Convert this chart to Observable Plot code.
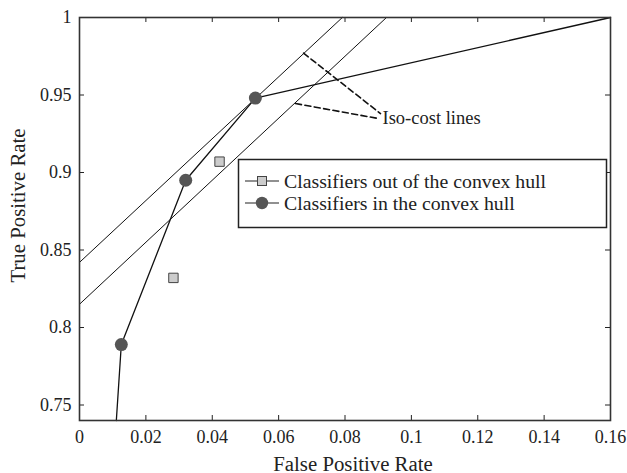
<!DOCTYPE html>
<html><head><meta charset="utf-8">
<script src="https://cdn.jsdelivr.net/npm/d3@7"></script>
<script src="https://cdn.jsdelivr.net/npm/@observablehq/plot@0.6"></script>
<style>body{margin:0;background:#fff}</style>
</head><body><div id="chart"></div>
<script>
const xTicks = [0, 0.02, 0.04, 0.06, 0.08, 0.1, 0.12, 0.14, 0.16];
const yTicks = [0.75, 0.8, 0.85, 0.9, 0.95, 1];
const hullFPR = [0.0111, 0.0126, 0.032, 0.053, 0.16];
const hullTPR = [0.74, 0.789, 0.895, 0.948, 1.0];
const hullPointFPR = [0.0126, 0.032, 0.053];
const hullPointTPR = [0.789, 0.895, 0.948];
const outFPR = [0.0283, 0.0422];
const outTPR = [0.832, 0.907];
const iso1FPR = [0, 0.0792];
const iso1TPR = [0.842, 1.0];
const iso2FPR = [0, 0.0925];
const iso2TPR = [0.815, 1.0];
const ptr1FPR = [0.0675, 0.0907];
const ptr1TPR = [0.977, 0.938];
const ptr2FPR = [0.0651, 0.0901];
const ptr2TPR = [0.9445, 0.9348];
const annotText = ["Iso-cost lines"];
const annotFPR = [0.0913];
const annotTPR = [0.935];
const legendLabels = ["Classifiers out of the convex hull", "Classifiers in the convex hull"];
const xLabel = "False Positive Rate";
const yLabel = "True Positive Rate";

const font = "Liberation Serif, Times New Roman, serif";
const W = 627, H = 473, mt = 17, mr = 17, mb = 53, ml = 79;
const ph = H - mt - mb, pw = W - ml - mr;

function legend() {
  const g = d3.create("svg:g").attr("font-family", font).attr("font-size", 19.8).attr("fill", "#222").attr("text-anchor", "start");
  g.append("rect").attr("x", 238.5).attr("y", 159.5).attr("width", 368).attr("height", 68)
    .attr("fill", "white").attr("stroke", "#222").attr("stroke-width", 1.5);
  const rows = [181, 203];
  legendLabels.forEach((lab, i) => {
    const y = rows[i];
    g.append("line").attr("x1", 245).attr("x2", 279).attr("y1", y).attr("y2", y).attr("stroke", "#222").attr("stroke-width", 1.2);
    if (i === 0) {
      g.append("rect").attr("x", 257.5).attr("y", y - 4.5).attr("width", 9).attr("height", 9)
        .attr("fill", "#ccc").attr("stroke", "#444").attr("stroke-width", 1);
    } else {
      g.append("circle").attr("cx", 262).attr("cy", y).attr("r", 6.2).attr("fill", "#555");
    }
    g.append("text").attr("x", 284).attr("y", y).attr("dy", "0.33em").attr("text-anchor", "start").text(lab);
  });
  return g.node();
}

const chart = Plot.plot({
  width: W, height: H,
  marginTop: mt, marginRight: mr, marginBottom: mb, marginLeft: ml,
  style: {fontFamily: font, background: "white", color: "#222"},
  x: {domain: [0, 0.16]},
  y: {domain: [0.74, 1]},
  marks: [
    Plot.axisX(xTicks, {tickSize: 0, tickPadding: 10, tickFormat: d => String(d), fontSize: 18, label: null}),
    Plot.axisY(yTicks, {tickSize: 0, tickPadding: 8, tickFormat: d => String(d), fontSize: 18, label: null}),
    Plot.ruleX(xTicks, {x: d => d, insetTop: ph - 5, stroke: "#222"}),
    Plot.ruleX(xTicks, {x: d => d, insetBottom: ph - 5, stroke: "#222"}),
    Plot.ruleY(yTicks, {y: d => d, insetLeft: pw - 5, stroke: "#222"}),
    Plot.ruleY(yTicks, {y: d => d, insetRight: pw - 5, stroke: "#222"}),
    Plot.line(iso1FPR, {x: iso1FPR, y: iso1TPR, stroke: "#111", strokeWidth: 1}),
    Plot.line(iso2FPR, {x: iso2FPR, y: iso2TPR, stroke: "#111", strokeWidth: 1}),
    Plot.line(ptr1FPR, {x: ptr1FPR, y: ptr1TPR, stroke: "#111", strokeWidth: 1.6, strokeDasharray: "6,3.5"}),
    Plot.line(ptr2FPR, {x: ptr2FPR, y: ptr2TPR, stroke: "#111", strokeWidth: 1.6, strokeDasharray: "6,3.5"}),
    Plot.line(hullFPR, {x: hullFPR, y: hullTPR, stroke: "#111", strokeWidth: 1.3}),
    Plot.dot(outFPR, {x: outFPR, y: outTPR, symbol: "square", r: 5.3, fill: "#ccc", stroke: "#444", strokeWidth: 1}),
    Plot.dot(hullPointFPR, {x: hullPointFPR, y: hullPointTPR, r: 6.5, fill: "#555"}),
    Plot.text(annotText, {x: annotFPR, y: annotTPR, textAnchor: "start", fontSize: 18.5, fill: "#222"}),
    Plot.frame({stroke: "#333", strokeWidth: 1.6}),
    Plot.text([xLabel], {frameAnchor: "bottom", textAnchor: "middle", dx: 8, dy: 50, fontSize: 20.8, fill: "#222"}),
    Plot.text([yLabel], {frameAnchor: "left", textAnchor: "middle", dx: -61, dy: -13.5, rotate: -90, fontSize: 20.8, fill: "#222"}),
    legend
  ]
});
document.getElementById("chart").appendChild(chart);
</script>
</body></html>
